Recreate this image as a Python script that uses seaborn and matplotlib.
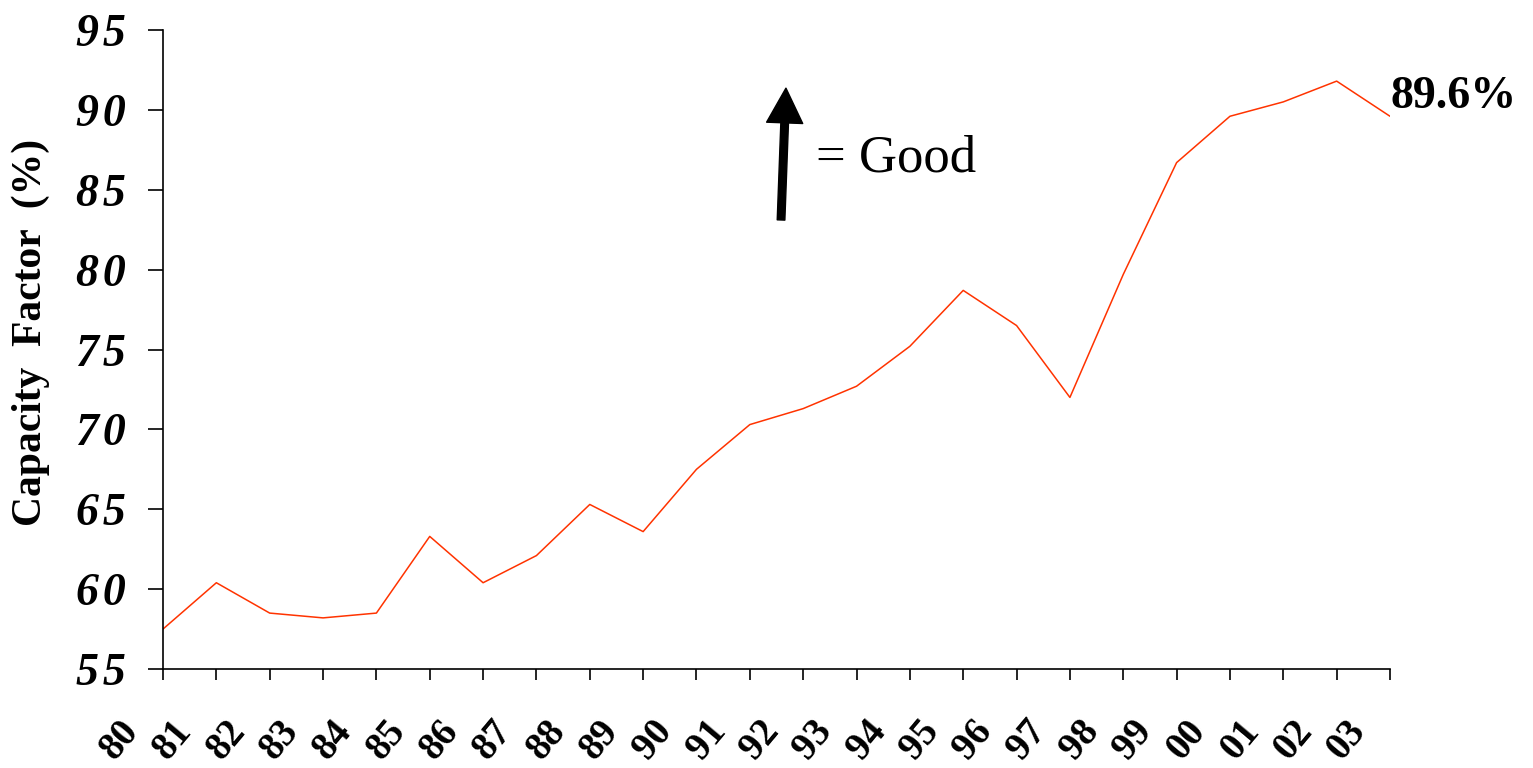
import matplotlib
matplotlib.use("Agg")
import matplotlib.pyplot as plt
import matplotlib.transforms as mtransforms
import pandas as pd
import seaborn as sns

# capacity factor by year
years    = ['80', '81', '82', '83', '84', '85', '86', '87', '88', '89', '90', '91',
            '92', '93', '94', '95', '96', '97', '98', '99', '00', '01', '02', '03']
capacity = [57.5, 60.4, 58.5, 58.2, 58.5, 63.3, 60.4, 62.1, 65.3, 63.6, 67.5, 70.3,
            71.3, 72.7, 75.2, 78.7, 76.5, 72.0, 79.7, 86.7, 89.6, 90.5, 91.8, 89.6]
y_ticks  = [55, 60, 65, 70, 75, 80, 85, 90, 95]
last_label = '89.6%'

df = pd.DataFrame({'idx': range(len(years)), 'year': years, 'capacity': capacity})

sns.set_style('ticks')
plt.rcParams['font.family'] = ['Liberation Serif', 'DejaVu Serif']
plt.rcParams['text.color'] = 'black'
plt.rcParams['axes.labelcolor'] = 'black'
plt.rcParams['xtick.color'] = 'black'
plt.rcParams['ytick.color'] = 'black'

fig = plt.figure(figsize=(15.33, 7.68), dpi=100)
ax  = fig.add_axes([163/1533, 99/768, 1227/1533, 639/768])

sns.lineplot(data=df, x='idx', y='capacity', color='#FF3300', linewidth=1.1, ax=ax)

ax.set_xlim(0, len(years) - 1)
ax.set_ylim(55, 95)
ax.set_yticks(y_ticks)
ax.set_yticklabels(['\u200a'.join(str(v)) for v in y_ticks], fontsize=33,
                   fontweight='bold', fontstyle='italic')
ax.set_xticks(df['idx'])
ax.set_xticklabels(years, fontsize=28, fontweight='bold', rotation=50,
                   ha='center', va='center', rotation_mode='anchor')

ax.tick_params(axis='y', length=11, width=1.2, pad=16, direction='out')
ax.tick_params(axis='x', length=8, width=1.2, pad=43, direction='out')

# shift x tick labels left like in the original
offset = mtransforms.ScaledTranslation(-43/100, 0, fig.dpi_scale_trans)
for lbl in ax.xaxis.get_majorticklabels():
    lbl.set_transform(lbl.get_transform() + offset)

for side in ['top', 'right']:
    ax.spines[side].set_visible(False)
for side in ['left', 'bottom']:
    ax.spines[side].set_color('black')
    ax.spines[side].set_linewidth(1.2)

ax.set_xlabel('')
ax.set_ylabel('Capacity  Factor  (%)', fontsize=30, fontweight='bold')
ax.yaxis.set_label_coords(-0.092, 0.526)

# last value label
ax.annotate(last_label, xy=(df['idx'].iloc[-1], capacity[-1]), xytext=(0, 6),
            textcoords='offset points', ha='left', va='baseline',
            fontsize=33, fontweight='bold', annotation_clip=False)

# "up = good" arrow
ax.annotate('', xy=(0.5077, 0.909), xytext=(0.5037, 0.7027), xycoords='axes fraction',
            arrowprops=dict(width=5.5, headwidth=26, headlength=25, color='black', shrink=0))
ax.text(0.532, 0.778, '= Good', transform=ax.transAxes, fontsize=38,
        ha='left', va='baseline')

fig.savefig('out.png', dpi=100)
